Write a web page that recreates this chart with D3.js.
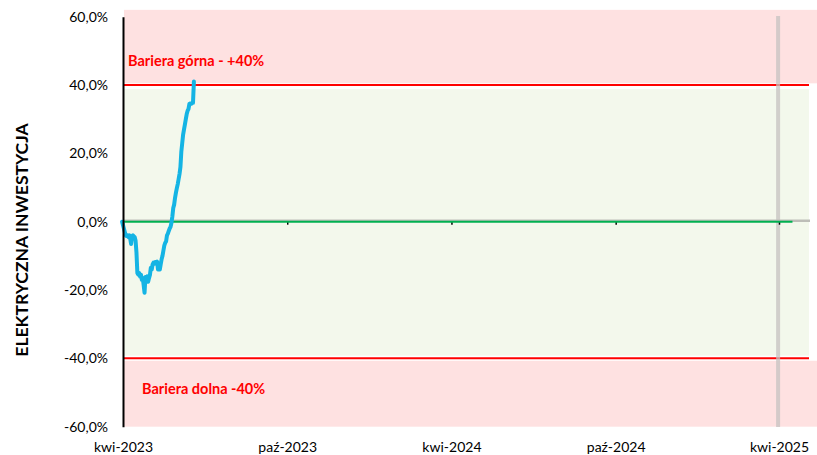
<!DOCTYPE html>
<html>
<head>
<meta charset="utf-8">
<script src="https://cdn.jsdelivr.net/npm/d3@7"></script>
<style>
  html, body { margin: 0; padding: 0; background: #ffffff; }
  svg { display: block; font-family: Lato, "Open Sans", sans-serif; }
</style>
</head>
<body>
<svg id="chart" width="817" height="455"></svg>
<script>
// Performance of the product since launch (%)
const seriesDates = [
  "2023-03-31","2023-04-03","2023-04-04","2023-04-05","2023-04-06","2023-04-07","2023-04-08","2023-04-09",
  "2023-04-10","2023-04-11","2023-04-12","2023-04-13","2023-04-14","2023-04-15","2023-04-16","2023-04-17",
  "2023-04-18","2023-04-19","2023-04-20","2023-04-21","2023-04-22","2023-04-23","2023-04-24","2023-04-25",
  "2023-04-26","2023-04-27","2023-04-28","2023-04-29","2023-04-30","2023-05-01","2023-05-02","2023-05-03",
  "2023-05-04","2023-05-05","2023-05-06","2023-05-07","2023-05-08","2023-05-09","2023-05-10","2023-05-11",
  "2023-05-12","2023-05-13","2023-05-14","2023-05-15","2023-05-16","2023-05-17","2023-05-18","2023-05-19",
  "2023-05-20","2023-05-21","2023-05-22","2023-05-23","2023-05-24","2023-05-25","2023-05-26","2023-05-27",
  "2023-05-28","2023-05-29","2023-05-30","2023-05-31","2023-06-01","2023-06-02","2023-06-03","2023-06-04",
  "2023-06-05","2023-06-06","2023-06-07","2023-06-08","2023-06-09","2023-06-10","2023-06-11","2023-06-12",
  "2023-06-13","2023-06-14","2023-06-15","2023-06-16","2023-06-17","2023-06-18","2023-06-19"
];
const seriesValues = [
  0.0, -3.0, -4.0, -4.2, -4.0, -4.5, -4.0, -4.8,
  -6.5, -4.2, -4.0, -4.3, -4.5, -5.5, -9.0, -15.0,
  -15.5, -15.0, -16.0, -15.5, -17.0, -16.5, -18.5, -20.8,
  -16.2, -16.5, -16.0, -17.6, -16.5, -15.6, -13.5, -14.0,
  -12.5, -12.0, -12.3, -11.8, -12.0, -11.7, -14.0, -13.5,
  -14.0, -12.5, -11.0, -10.0, -8.5, -7.0, -6.2, -5.8,
  -4.0, -3.5, -2.7, -2.0, -1.5, -0.3, 1.5, 4.0,
  5.0, 7.0, 8.5, 9.8, 11.0, 12.5, 14.0, 16.0,
  20.5, 23.0, 25.5, 27.0, 28.5, 30.0, 31.5, 32.5,
  33.0, 34.5, 34.6, 34.5, 34.8, 34.8, 41.0
];

// Reference (zero) series
const baseDates = ["2023-03-31", "2025-04-16"];
const baseValues = [0, 0];

// Barriers
const barrierValues = [40, -40];
const barrierLabels = ["Bariera górna - +40%", "Bariera dolna -40%"];

// Background zones: [low, high] in %
const zoneLow  = [40.5, -39.2, -60.0];
const zoneHigh = [62.0,  38.8, -40.7];
const zoneFill = ["#fee1e1", "#f3f8ec", "#fee1e1"];

// Valuation date marker
const markerDate = "2025-03-31";

// Axes
const yTicks = [60, 40, 20, 0, -20, -40, -60];
const xTickDates = ["2023-04-01", "2023-10-01", "2024-04-01", "2024-10-01", "2025-04-01"];
const monthNames = ["sty","lut","mar","kwi","maj","cze","lip","sie","wrz","paź","lis","gru"];
const yTitle = "ELEKTRYCZNA INWESTYCJA";

const parse = d3.utcParse("%Y-%m-%d");
const svg = d3.select("#chart");
const W = 817;

const xLeft = 123, xRightTick = 779, xAxisEnd = 810;
const x0 = d3.scaleUtc()
  .domain([parse(xTickDates[0]), parse(xTickDates[xTickDates.length - 1])])
  .range([xLeft, xRightTick]);
const x = d3.scaleUtc()
  .domain([x0.domain()[0], x0.invert(xAxisEnd)])
  .range([xLeft, xAxisEnd]);

const y = d3.scaleLinear().domain([-60, 60]).range([426.7, 16.7]);

// Zones
const zoneRight = [W, xAxisEnd - 1, W];
svg.append("g").selectAll("rect")
  .data(zoneLow.map((lo, i) => ({ lo, hi: zoneHigh[i], fill: zoneFill[i], right: zoneRight[i] })))
  .join("rect")
  .attr("x", xLeft + 1)
  .attr("y", d => y(d.hi))
  .attr("width", d => d.right - xLeft - 1)
  .attr("height", d => y(d.lo) - y(d.hi))
  .attr("fill", d => d.fill);

// Barrier lines
svg.append("g").selectAll("line")
  .data(barrierValues)
  .join("line")
  .attr("x1", xLeft + 1).attr("x2", xAxisEnd - 1)
  .attr("y1", d => y(d)).attr("y2", d => y(d))
  .attr("stroke", "#ff0000").attr("stroke-width", 2);

// Barrier labels
const labelPos = [{ dx: 5, v: 47.2 }, { dx: 19, v: -48.8 }];
svg.append("g").selectAll("text")
  .data(barrierLabels)
  .join("text")
  .attr("x", (d, i) => xLeft + labelPos[i].dx)
  .attr("y", (d, i) => y(labelPos[i].v))
  .attr("dy", "0.35em")
  .attr("fill", "#ff0000")
  .attr("font-weight", "bold")
  .attr("font-size", 14.5)
  .text(d => d);

// Marker line
svg.append("line")
  .attr("x1", x(parse(markerDate))).attr("x2", x(parse(markerDate)))
  .attr("y1", 16).attr("y2", 427)
  .attr("stroke", "#c6c2c0").attr("stroke-opacity", 0.75).attr("stroke-width", 4);

// X axis on the zero line
const xAxis = d3.axisBottom(x)
  .tickValues(xTickDates.map(parse))
  .tickSize(3)
  .tickPadding(0)
  .tickFormat(d => monthNames[d.getUTCMonth()] + "-" + d.getUTCFullYear());
const gx = svg.append("g").attr("transform", `translate(0,${y(0)})`).call(xAxis);
gx.select(".domain").remove();
gx.selectAll(".tick line").attr("stroke", "#000").attr("stroke-width", 1.5);
gx.selectAll(".tick text")
  .attr("y", 447 - y(0))
  .attr("dy", "0.35em")
  .attr("font-size", 14)
  .attr("font-family", "Lato, sans-serif")
  .attr("fill", "#000");
svg.append("line")
  .attr("x1", xLeft).attr("x2", xAxisEnd)
  .attr("y1", y(0) - 1).attr("y2", y(0) - 1)
  .attr("stroke", "#bdbdb8").attr("stroke-width", 2.5);

// Zero series
const line = d3.line().x(d => x(d[0])).y(d => y(d[1]));
svg.append("path")
  .datum(baseDates.map((d, i) => [parse(d), baseValues[i]]))
  .attr("d", line)
  .attr("fill", "none")
  .attr("stroke", "#00b050")
  .attr("stroke-width", 2);

// Product series
svg.append("path")
  .datum(seriesDates.map((d, i) => [parse(d), seriesValues[i]]))
  .attr("d", line)
  .attr("fill", "none")
  .attr("stroke", "#14b4e4")
  .attr("stroke-width", 4)
  .attr("stroke-linejoin", "round")
  .attr("stroke-linecap", "round");

// Y axis
const yAxis = d3.axisLeft(y)
  .tickValues(yTicks)
  .tickSize(0)
  .tickPadding(15)
  .tickFormat(d => d3.format(".1f")(d).replace(".", ",").replace("−", "-") + "%");
const gy = svg.append("g").attr("transform", `translate(${xLeft},0)`).call(yAxis);
gy.select(".domain").attr("stroke", "#000").attr("stroke-width", 2);
gy.selectAll(".tick text")
  .attr("font-size", 14)
  .attr("font-family", "Lato, sans-serif")
  .attr("fill", "#000");

// Y title
svg.append("text")
  .attr("transform", "translate(22,240) rotate(-90)")
  .attr("text-anchor", "middle")
  .attr("dy", "0.35em")
  .attr("font-weight", "bold")
  .attr("font-size", 17.5)
  .attr("fill", "#000")
  .text(yTitle);
</script>
</body>
</html>
